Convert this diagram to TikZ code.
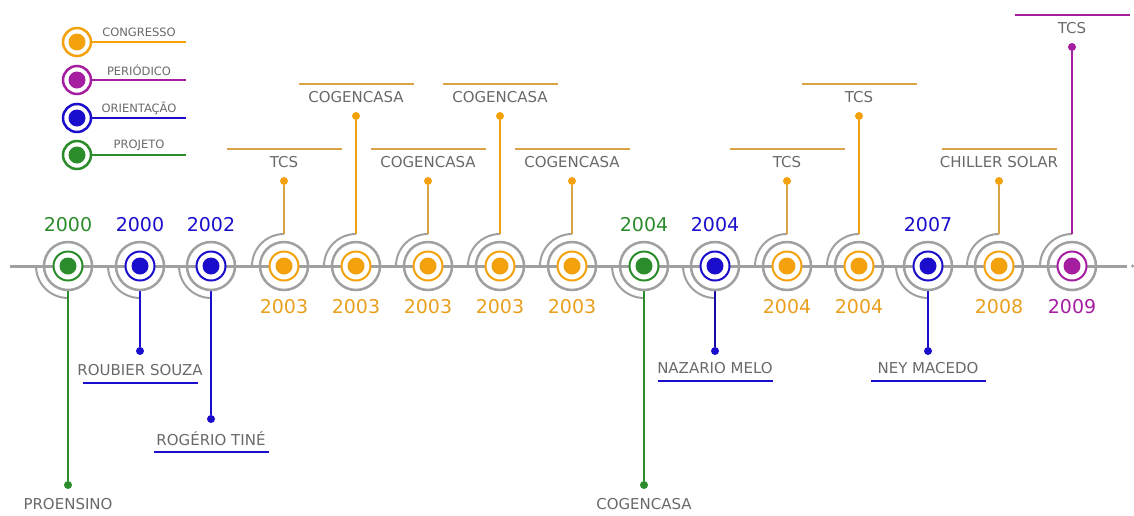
\documentclass[tikz,border=0pt]{standalone}
\usepackage{fontspec}
\setmainfont{DejaVu Sans}
\usetikzlibrary{calc}
\definecolor{cgreen}{RGB}{42,140,42}
\definecolor{cblue}{RGB}{26,14,204}
\definecolor{corange}{RGB}{243,161,12}
\definecolor{cpurple}{RGB}{165,30,160}
\definecolor{ctan}{RGB}{218,164,70}
\definecolor{cyear}{RGB}{234,160,30}
\definecolor{ringgray}{RGB}{160,160,160}
\definecolor{txtgray}{RGB}{105,105,105}
\tikzset{
  outerring/.style={circle, draw=ringgray, line width=2.5pt, minimum size=48pt, inner sep=0pt},
  innerring/.style={circle, draw=#1, fill=white, line width=2pt, minimum size=29pt, inner sep=0pt},
  core/.style={circle, fill=#1, minimum size=17pt, inner sep=0pt},
  tipdot/.style={circle, fill=#1, minimum size=8pt, inner sep=0pt},
  stem/.style={draw=#1, line width=2pt},
  bar/.style={draw=#1, line width=2pt},
  arcline/.style={draw=ringgray, line width=2pt},
  lbl/.style={text=txtgray, font=\fontsize{15}{18}\selectfont, inner sep=0pt},
  yr/.style={text=#1, font=\fontsize{19}{22}\selectfont, inner sep=0pt},
  leglbl/.style={text=txtgray, font=\fontsize{11.5}{14}\selectfont, inner sep=0pt},
}
\begin{document}
\begin{tikzpicture}[x=1pt,y=-1pt]
\useasboundingbox (0,0) rectangle (1134,515);

% legend
\foreach \n/\y/\c/\t in {1/42/corange/CONGRESSO, 2/80/cpurple/PERIÓDICO, 3/118/cblue/ORIENTAÇÃO, 4/155/cgreen/PROJETO}{
  \node[innerring=\c, minimum size=28pt, line width=2.5pt] (lg\n) at (77,\y) {};
  \node[core=\c] at (lg\n) {};
  \coordinate (lge\n) at (186,\y);
  \draw[bar=\c] (lg\n.east) -- (lge\n);
  \node[leglbl] at (139,\y-10) {\t};
}

% time axis
\coordinate (ax0) at (10,266);
\coordinate (ax1) at (1127,266);
\draw[draw=ringgray, line width=3pt] (ax0) -- (ax1);
\node[circle, fill=ringgray, minimum size=3.5pt, inner sep=0pt] (axend) at (1132.5,266) {};

% event positions
\foreach \n/\x in {1/68, 2/140, 3/211, 4/284, 5/356, 6/428, 7/500, 8/572,
                   9/644, 10/715, 11/787, 12/859, 13/928, 14/999, 15/1072}{
  \coordinate (m\n) at (\x,266);
}

% quarter arcs toward the stem side
\foreach \n in {1,2,3,9,10,13}{
  \draw[arcline] ($(m\n)+(-32,0)$) arc[start angle=180, end angle=270, radius=32pt];
}
\foreach \n in {4,5,6,7,8,11,12,14,15}{
  \draw[arcline] ($(m\n)+(-32,0)$) arc[start angle=180, end angle=90, radius=32pt];
}

% stem ends
\node[tipdot=cgreen]  (e1)  at (68,485)   {};
\node[tipdot=cblue]   (e2)  at (140,351)  {};
\node[tipdot=cblue]   (e3)  at (211,419)  {};
\node[tipdot=corange] (e4)  at (284,181)  {};
\node[tipdot=corange] (e5)  at (356,116)  {};
\node[tipdot=corange] (e6)  at (428,181)  {};
\node[tipdot=corange] (e7)  at (500,116)  {};
\node[tipdot=corange] (e8)  at (572,181)  {};
\node[tipdot=cgreen]  (e9)  at (644,485)  {};
\node[tipdot=cblue]   (e10) at (715,351)  {};
\node[tipdot=corange] (e11) at (787,181)  {};
\node[tipdot=corange] (e12) at (859,116)  {};
\node[tipdot=cblue]   (e13) at (928,351)  {};
\node[tipdot=corange] (e14) at (999,181)  {};
\node[tipdot=cpurple] (e15) at (1072,47)  {};

% stems
\draw[stem=cgreen, line width=2.8pt] ($(m1)+(0,25)$) -- (e1);
\draw[stem=cblue] ($(m2)+(0,25)$) -- (e2);
\draw[stem=cblue] ($(m3)+(0,25)$) -- (e3);
\draw[stem=cgreen, line width=2.8pt] ($(m9)+(0,25)$) -- (e9);
\draw[stem=cblue!80!black] ($(m10)+(0,25)$) -- (e10);
\draw[stem=cblue] ($(m13)+(0,25)$) -- (e13);
\foreach \n in {4,6,8,11,14}{
  \draw[stem=ctan] ($(m\n)+(0,-32)$) -- (e\n);
}
\foreach \n in {5,7,12}{
  \draw[stem=corange!85!ctan] ($(m\n)+(0,-32)$) -- (e\n);
}
\draw[stem=cpurple] ($(m15)+(0,-32)$) -- (e15);

% markers
\foreach \n/\c in {1/cgreen, 2/cblue, 3/cblue, 4/corange, 5/corange, 6/corange, 7/corange, 8/corange,
                   9/cgreen, 10/cblue, 11/corange, 12/corange, 13/cblue, 14/corange, 15/cpurple}{
  \node[outerring] (o\n) at (m\n) {};
  \node[innerring=\c] (i\n) at (m\n) {};
  \node[core=\c] (c\n) at (m\n) {};
}

% years
\node[yr=cgreen]  at (68,225)   {2000};
\node[yr=cblue]   at (140,225)  {2000};
\node[yr=cblue]   at (211,225)  {2002};
\node[yr=cyear]   at (284,307)  {2003};
\node[yr=cyear]   at (356,307)  {2003};
\node[yr=cyear]   at (428,307)  {2003};
\node[yr=cyear]   at (500,307)  {2003};
\node[yr=cyear]   at (572,307)  {2003};
\node[yr=cgreen]  at (644,225)  {2004};
\node[yr=cblue]   at (715,225)  {2004};
\node[yr=cyear]   at (787,307)  {2004};
\node[yr=cyear]   at (859,307)  {2004};
\node[yr=cblue]   at (928,225)  {2007};
\node[yr=cyear]   at (999,307)  {2008};
\node[yr=cpurple] at (1072,307) {2009};

% labels above
\foreach \n/\x/\y/\t in {4/284/162/TCS, 5/356/97/COGENCASA, 6/428/162/COGENCASA, 7/500/97/COGENCASA,
                         8/572/162/COGENCASA, 11/787/162/TCS, 12/859/97/TCS, 14/999/162/CHILLER SOLAR}{
  \node[lbl] (l\n) at (\x,\y) {\t};
  \draw[bar=ctan] ($(l\n)+(-57.5,-13)$) -- ($(l\n)+(57.5,-13)$);
}
\node[lbl] (l15) at (1072,28) {TCS};
\draw[bar=cpurple] ($(l15)+(-57.5,-13)$) -- ($(l15)+(57.5,-13)$);

% labels below
\node[lbl] (l1) at (68,504)  {PROENSINO};
\node[lbl] (l9) at (644,504) {COGENCASA};
\foreach \n/\x/\y/\t in {2/140/370/ROUBIER SOUZA, 3/211/439/ROGÉRIO TINÉ, 10/715/368/NAZARIO MELO, 13/928/368/NEY MACEDO}{
  \node[lbl] (l\n) at (\x,\y) {\t};
  \draw[bar=cblue] ($(l\n)+(-57.5,13)$) -- ($(l\n)+(57.5,13)$);
}
\end{tikzpicture}
\end{document}
